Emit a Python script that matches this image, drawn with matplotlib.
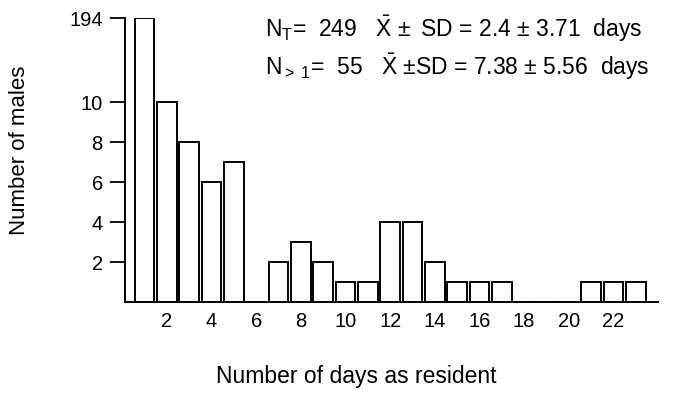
import numpy as np
import matplotlib
matplotlib.use("Agg")
import matplotlib.pyplot as plt

plt.rcParams['font.family'] = ['Liberation Sans', 'DejaVu Sans']
plt.rcParams['mathtext.fontset'] = 'custom'
plt.rcParams['mathtext.rm'] = 'Liberation Sans'
plt.rcParams['mathtext.it'] = 'Liberation Sans:italic'
plt.rcParams['mathtext.bf'] = 'Liberation Sans:bold'

# Data
days = list(range(1, 24))
counts = [194, 10, 8, 6, 7, 0, 2, 3, 2, 1, 1, 4, 4, 2, 1, 1, 1, 0, 0, 0, 1, 1, 1]
xtick_vals = [2, 4, 6, 8, 10, 12, 14, 16, 18, 20, 22]
ytick_vals = [2, 4, 6, 8, 10, 194]
line1 = r"N$_\mathrm{T}$=  249   $\bar{\mathrm{X}}\,\pm$ SD = 2.4 $\pm$ 3.71  days"
line2 = r"N$_{>\ 1}$=  55   $\bar{\mathrm{X}}$ $\pm$SD = 7.38 $\pm$ 5.56  days"

# broken (compressed) y scale above 10
K = 4.2 / 184.0
def fwd(v):
    v = np.asarray(v, dtype=float)
    return np.where(v <= 10, v, 10 + (v - 10) * K)
def inv(u):
    u = np.asarray(u, dtype=float)
    return np.where(u <= 10, u, 10 + (u - 10) / K)

fig = plt.figure(figsize=(6.99, 3.96), dpi=100)
ax = fig.add_axes([125/699, 1 - 302/396, (658-125)/699, (302-18)/396])
ax.set_yscale('function', functions=(fwd, inv))

ax.bar(days, counts, width=0.88, facecolor='white', edgecolor='black', linewidth=1.4)

ax.set_xlim(0.12, 24.0)
ax.set_ylim(0, 194)
ax.set_xticks(xtick_vals)
ax.set_xticklabels([str(v) for v in xtick_vals], fontsize=14.5)
ax.set_yticks(ytick_vals)
ax.set_yticklabels([str(v) for v in ytick_vals], fontsize=14.5)
ax.yaxis.set_minor_locator(matplotlib.ticker.NullLocator())
ax.tick_params(axis='x', length=0, pad=7)
ax.tick_params(axis='y', length=11, width=1.3, pad=5)

for s in ['top', 'right']:
    ax.spines[s].set_visible(False)
for s in ['left', 'bottom']:
    ax.spines[s].set_linewidth(1.4)

fig.text(20/699, 1 - 150/396, "Number of males", rotation=90, ha='center', va='center', fontsize=16)
fig.text(356/699, 1 - 376/396, "Number of days as resident", ha='center', va='center', fontsize=16.5)

fig.text(265/699, 1 - 37/396, line1, ha='left', va='baseline', fontsize=16.5)
fig.text(265/699, 1 - 75/396, line2, ha='left', va='baseline', fontsize=16.5)

fig.savefig("out.png", dpi=100)
